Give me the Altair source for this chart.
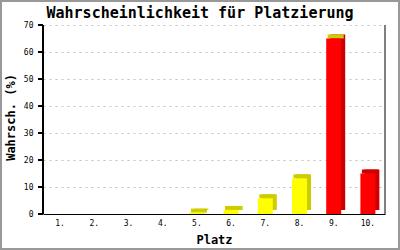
import altair as alt
import pandas as pd

places = ["1.", "2.", "3.", "4.", "5.", "6.", "7.", "8.", "9.", "10."]
probs = [0, 0, 0, 0, 0.5, 1.5, 5.8, 13.2, 65, 15]
groups = ["low"] * 8 + ["high"] * 2
yticks = [0, 10, 20, 30, 40, 50, 60, 70]
title_text = "Wahrscheinlichkeit für Platzierung"

df = pd.DataFrame({"Platz": places, "Wahrsch": probs, "Gruppe": groups})
ticks_df = pd.DataFrame({"Wahrsch": yticks})

FONT = "DejaVu Sans Mono"
yscale = alt.Scale(domain=[0, 70], nice=False)
xenc = alt.X("Platz:N", sort=places, scale=alt.Scale(paddingInner=0, paddingOuter=0),
             axis=alt.Axis(title="Platz", labelAngle=0, ticks=False, grid=False, domain=True,
                           domainColor="black", domainWidth=1))
yenc = alt.Y("Wahrsch:Q", scale=yscale,
             axis=alt.Axis(title="Wahrsch. (%)", values=yticks, grid=True,
                           domain=False, ticks=False, titleY=92))

base = alt.Chart(df).transform_calculate(
    front="datum.Gruppe == 'low' ? '#FFFF00' : '#FF0000'",
    side="datum.Gruppe == 'low' ? '#CCCC00' : '#CC0000'",
    top="(datum.Gruppe == 'low' || datum.Platz == '9.') ? '#CCCC00' : '#CC0000'",
)

frame = alt.Chart(pd.DataFrame({"a": [0]})).mark_rect(fill="transparent", stroke="#999999", strokeWidth=2).encode(
    x=alt.value(-42), x2=alt.value(356), y=alt.value(-24), y2=alt.value(224))

side = base.mark_bar(width=15, xOffset=4, yOffset=-4, y2Offset=-4).encode(
    x=xenc, y=yenc, y2=alt.datum(0), color=alt.Color("side:N", scale=None))

cap = base.transform_filter("datum.Wahrsch > 0").mark_bar(width=16, xOffset=2, yOffset=-4, y2Offset=0).encode(
    x=xenc, y=yenc, y2=alt.Y2("Wahrsch:Q"), color=alt.Color("top:N", scale=None))

front = base.mark_bar(width=15).encode(x=xenc, y=yenc, y2=alt.datum(0),
                                       color=alt.Color("front:N", scale=None))

right = alt.Chart(pd.DataFrame({"a": [0]})).mark_rule(color="black", strokeWidth=1).encode(
    x=alt.value(342), y=alt.value(0), y2=alt.value(189))

left = alt.Chart(pd.DataFrame({"a": [0]})).mark_rule(color="black", strokeWidth=2).encode(
    x=alt.value(0), y=alt.value(0), y2=alt.value(189))

tickmarks = alt.Chart(ticks_df).mark_rule(color="black", strokeWidth=2).encode(
    x=alt.value(-5), x2=alt.value(0), y=yenc)

title = alt.Chart(pd.DataFrame({"t": [title_text]})).mark_text(
    font=FONT, fontSize=15, fontWeight="bold", color="black", baseline="alphabetic", align="center"
).encode(text="t:N", x=alt.value(157), y=alt.value(-7))

chart = alt.layer(frame, side, cap, front, right, left, tickmarks, title).properties(
    width=342, height=189,
    padding={"left": 43, "top": 25, "right": 15, "bottom": 36},
    autosize=alt.AutoSizeParams(type="none"),
    background="white",
).configure_view(stroke=None).configure_axis(
    labelColor="black", titleColor="black",
    labelFont=FONT, titleFont=FONT, labelFontSize=8, titleFontWeight="bold",
).configure_axisX(
    labelPadding=5, titleFontSize=12, titlePadding=7,
).configure_axisY(
    labelPadding=10, titleFontSize=12, titlePadding=6,
    gridColor="#C0C0C0", gridDash=[2, 4],
)

chart.save("out.html", embed_options={"renderer": "svg", "actions": False})
